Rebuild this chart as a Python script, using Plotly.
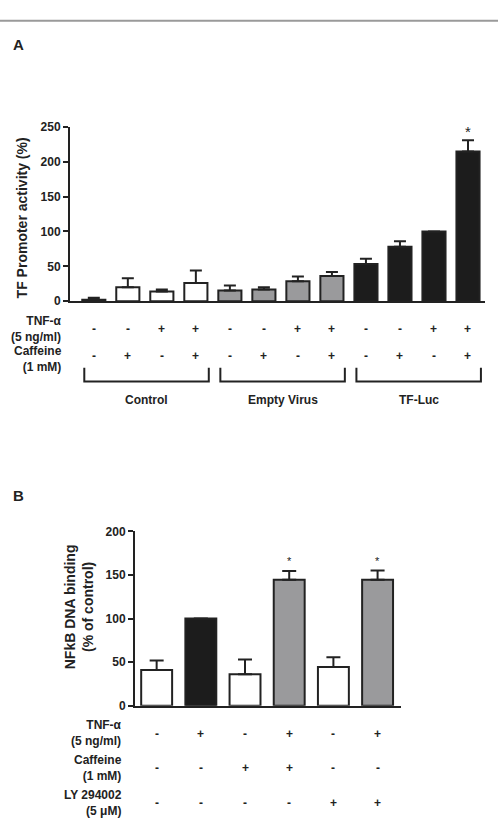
import plotly.graph_objects as go

# ---------------- data ----------------
groups_A = ["Control", "Empty Virus", "TF-Luc"]
tnf_A = ["-", "-", "+", "+", "-", "-", "+", "+", "-", "-", "+", "+"]
caff_A = ["-", "+", "-", "+", "-", "+", "-", "+", "-", "+", "-", "+"]
values_A = [2, 20, 14, 26, 15.5, 17, 28.5, 36, 53.5, 78, 100, 214.5]
errors_A = [3, 13, 3, 18, 7, 3, 7, 6, 7.5, 8, 0, 16]
sig_A = ["", "", "", "", "", "", "", "", "", "", "", "*"]
yticks_A = [0, 50, 100, 150, 200, 250]

tnf_B = ["-", "+", "-", "+", "-", "+"]
caff_B = ["-", "-", "+", "+", "-", "-"]
ly_B = ["-", "-", "-", "-", "+", "+"]
values_B = [41, 100, 36, 144.5, 44.5, 144.5]
errors_B = [11, 0, 17, 10, 11, 10.5]
sig_B = ["", "", "", "*", "", "*"]
yticks_B = [0, 50, 100, 150, 200]

# ---------------- style ----------------
W, H = 498, 833
FONT = "Liberation Sans, Arial, sans-serif"
INK = "#222222"
WHITE, GRAY, BLACK = "#ffffff", "#9a9a9c", "#1c1c1c"
colors_A = [WHITE] * 4 + [GRAY] * 4 + [BLACK] * 4
colors_B = [WHITE, BLACK, WHITE, GRAY, WHITE, GRAY]


def px(x):
    return x / W


def py(y):
    return 1 - y / H


xA = list(range(len(values_A)))
xB = list(range(len(values_B)))

fig = go.Figure()
fig.add_trace(go.Bar(
    x=xA, y=values_A, xaxis="x", yaxis="y",
    marker=dict(color=colors_A, line=dict(color=INK, width=2)),
    error_y=dict(type="data", symmetric=False, array=errors_A,
                 arrayminus=[0] * len(errors_A), color=INK, thickness=2, width=6),
    showlegend=False, hoverinfo="y"))
fig.add_trace(go.Bar(
    x=xB, y=values_B, xaxis="x2", yaxis="y2", width=0.7,
    marker=dict(color=colors_B, line=dict(color=INK, width=2)),
    error_y=dict(type="data", symmetric=False, array=errors_B,
                 arrayminus=[0] * len(errors_B), color=INK, thickness=2, width=7),
    showlegend=False, hoverinfo="y"))

tickfont = dict(family=FONT, size=12, color=INK, weight="bold")
fig.update_layout(
    width=W, height=H, margin=dict(l=0, r=0, t=0, b=0),
    paper_bgcolor="white", plot_bgcolor="white",
    bargap=0.32,
    xaxis=dict(domain=[px(70), px(485)], range=[-0.7, 11.5], anchor="y",
               showticklabels=False, ticks="", showgrid=False, zeroline=False,
               showline=True, linecolor=INK, linewidth=2),
    yaxis=dict(domain=[py(299.3), py(121.7)], range=[0, 250], anchor="x",
               tickvals=yticks_A, ticks="outside", ticklen=5, tickwidth=2, tickcolor=INK,
               tickfont=tickfont, showgrid=False, zeroline=False,
               showline=True, linecolor=INK, linewidth=2),
    xaxis2=dict(domain=[px(135), px(401)], range=[-0.49, 5.53], anchor="y2",
                showticklabels=False, ticks="", showgrid=False, zeroline=False,
                showline=True, linecolor=INK, linewidth=2),
    yaxis2=dict(domain=[py(710.7), py(533.3)], range=[0, 200], anchor="x2",
                tickvals=yticks_B, ticks="outside", ticklen=5, tickwidth=2, tickcolor=INK,
                tickfont=tickfont, showgrid=False, zeroline=False,
                showline=True, linecolor=INK, linewidth=2),
)

ann = []
shapes = []

# top rule
shapes.append(dict(type="line", xref="paper", yref="paper", x0=0, x1=1,
                   y0=py(14), y1=py(14), line=dict(color="#9a9a9a", width=2)))

# panel letters
for letter, ypos in [("A", 38), ("B", 497)]:
    ann.append(dict(text="<b>%s</b>" % letter, xref="paper", yref="paper",
                    x=px(11), y=py(ypos), xanchor="left", yanchor="middle",
                    showarrow=False, font=dict(family=FONT, size=15, color=INK)))

# axis titles
ann.append(dict(text="<b>TF Promoter activity (%)</b>", xref="paper", yref="paper",
                x=px(22), y=py(215), xanchor="center", yanchor="middle",
                textangle=-90, showarrow=False,
                font=dict(family=FONT, size=14, color=INK)))
ann.append(dict(text="<b>NFkB DNA binding</b><br><b>(% of control)</b>", xref="paper",
                yref="paper", x=px(79), y=py(610.5), xanchor="center", yanchor="middle",
                textangle=-90, showarrow=False,
                font=dict(family=FONT, size=14, color=INK)))

lab_font = dict(family=FONT, size=12, color=INK)
sign_font = dict(family=FONT, size=12, color=INK)

# panel A condition rows
for txt, ypos in [("<b>TNF-α</b><br><b>(5 ng/ml)</b>", 327), ("<b>Caffeine</b><br><b>(1 mM)</b>", 358)]:
    ann.append(dict(text=txt, xref="paper", yref="paper", x=px(64), y=py(ypos),
                    xanchor="right", yanchor="middle", align="right", showarrow=False,
                    font=lab_font))
for row, ypos in [(tnf_A, 328), (caff_A, 355)]:
    for i, s in enumerate(row):
        ann.append(dict(text="<b>%s</b>" % s, xref="x", yref="paper", x=xA[i], y=py(ypos),
                        xanchor="center", yanchor="middle", showarrow=False, font=sign_font))

# panel A brackets and group labels
n_per = len(values_A) // len(groups_A)
for g, name in enumerate(groups_A):
    x0 = g * n_per - 0.28
    x1 = g * n_per + n_per - 0.62
    shapes.append(dict(type="path", xref="x", yref="paper",
                       path="M %f,%f L %f,%f L %f,%f L %f,%f" % (
                           x0, py(367), x0, py(381), x1, py(381), x1, py(367)),
                       line=dict(color=INK, width=2)))
    ann.append(dict(text="<b>%s</b>" % name, xref="x", yref="paper",
                    x=(x0 + x1) / 2, y=py(400), xanchor="center", yanchor="middle",
                    showarrow=False, font=lab_font))

# significance stars
for i, s in enumerate(sig_A):
    if s:
        ann.append(dict(text=s, xref="x", yref="y", x=xA[i], y=values_A[i] + errors_A[i],
                        xanchor="center", yanchor="bottom", yshift=-2, showarrow=False,
                        font=dict(family=FONT, size=15, color=INK)))
for i, s in enumerate(sig_B):
    if s:
        ann.append(dict(text=s, xref="x2", yref="y2", x=xB[i], y=values_B[i] + errors_B[i],
                        xanchor="center", yanchor="bottom", yshift=2, showarrow=False,
                        font=dict(family=FONT, size=11, color=INK)))

# panel B condition rows
for txt, ypos in [("<b>TNF-α</b><br><b>(5 ng/ml)</b>", 738), ("<b>Caffeine</b><br><b>(1 mM)</b>", 774),
                  ("<b>LY 294002</b><br><b>(5 μM)</b>", 810)]:
    ann.append(dict(text=txt, xref="paper", yref="paper", x=px(124), y=py(ypos),
                    xanchor="right", yanchor="middle", align="right", showarrow=False,
                    font=lab_font))
for row, ypos in [(tnf_B, 739), (caff_B, 774), (ly_B, 810)]:
    for i, s in enumerate(row):
        ann.append(dict(text="<b>%s</b>" % s, xref="x2", yref="paper", x=xB[i], y=py(ypos),
                        xanchor="center", yanchor="middle", showarrow=False, font=sign_font))

fig.update_layout(annotations=ann, shapes=shapes)
fig.write_html("out.html")
